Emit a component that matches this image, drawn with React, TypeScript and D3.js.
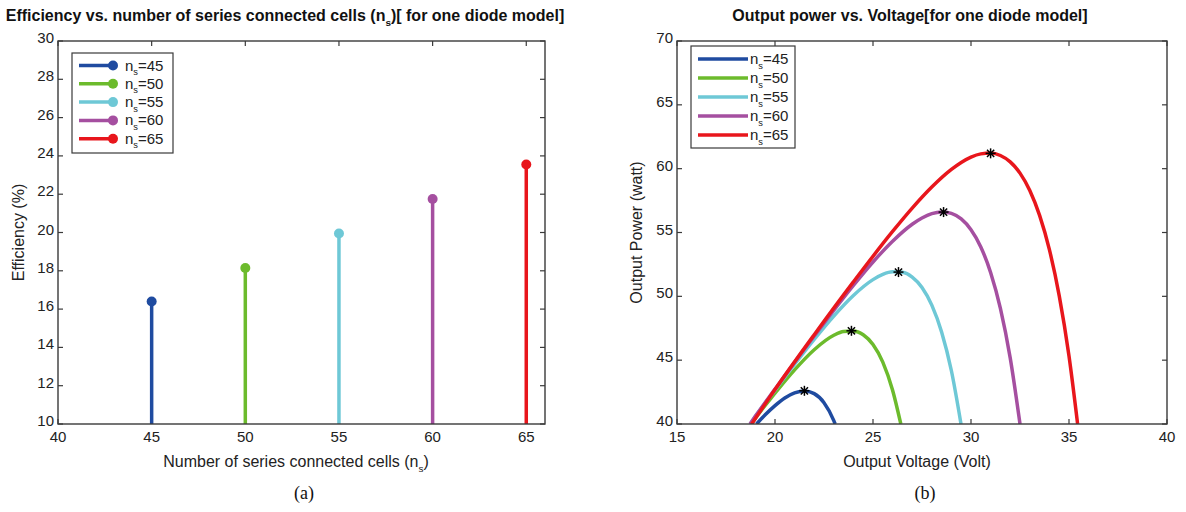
import React from 'react';
import * as d3 from 'd3';

// ---------- data ----------
const nsValues = [45, 50, 55, 60, 65];
const efficiency = [16.4, 18.15, 19.95, 21.75, 23.55];
const seriesLabels = ['45', '50', '55', '60', '65'];
const colors = ['#1f4ba0', '#6cbb2c', '#6ec8d6', '#a54fa0', '#e8161c'];

const effXTicks = [40, 45, 50, 55, 60, 65];
const effYTicks = [10, 12, 14, 16, 18, 20, 22, 24, 26, 28, 30];

const pvBlue: [number, number][] = [[19.06, 40], [19.5, 40.72], [20, 41.44], [20.5, 42.04], [21, 42.44], [21.5, 42.59], [22, 42.38], [22.5, 41.67], [23, 40.27], [23.07, 40]];
const pvGreen: [number, number][] = [[18.8, 40], [19, 40.45], [20, 42.41], [21, 44.24], [22, 45.82], [23, 46.95], [23.5, 47.25], [24, 47.29], [24.5, 46.99], [25, 46.23], [25.5, 44.85], [26, 42.65], [26.42, 40]];
const pvCyan: [number, number][] = [[18.75, 40], [19, 40.57], [20, 42.65], [21, 44.68], [22, 46.63], [23, 48.46], [24, 50.07], [25, 51.31], [25.5, 51.72], [26, 51.92], [26.5, 51.88], [27, 51.5], [27.5, 50.69], [28, 49.31], [28.5, 47.21], [29, 44.17], [29.49, 40]];
const pvPurple: [number, number][] = [[18.72, 40], [19, 40.62], [20, 42.73], [22, 46.89], [24, 50.86], [25, 52.69], [26, 54.32], [27, 55.65], [27.5, 56.14], [28, 56.48], [28.5, 56.61], [29, 56.5], [29.5, 56.06], [30, 55.22], [30.5, 53.87], [31, 51.87], [31.5, 49.05], [32, 45.18], [32.5, 40]];
const pvRed: [number, number][] = [[18.81, 40], [20, 42.7], [22, 46.99], [24, 51.13], [26, 55.08], [27, 56.91], [28, 58.56], [29, 59.94], [29.5, 60.49], [30, 60.91], [30.5, 61.16], [31, 61.22], [31.5, 61.03], [32, 60.53], [32.5, 59.65], [33, 58.29], [33.5, 56.34], [34, 53.66], [34.5, 50.06], [35, 45.33], [35.44, 40]];
const pvSeries = [pvBlue, pvGreen, pvCyan, pvPurple, pvRed];

const mppV = [21.5, 23.9, 26.3, 28.6, 31.0];
const mppP = [42.6, 47.3, 51.9, 56.6, 61.2];

const pvXTicks = [15, 20, 25, 30, 35, 40];
const pvYTicks = [40, 45, 50, 55, 60, 65, 70];

// ---------- styling ----------
const FONT = "'Liberation Sans', Arial, Helvetica, sans-serif";
const AXIS = '#3a3a3a';
const TXT = '#222';
const TOP = 41;
const BOTTOM = 424;
const TICK = 5;
const TICKFS = 15;
const LABELFS = 16;
const LEGFS = 15;

function Sub({ main, sub, after, size }: { main: string; sub: string; after: string; size: number }) {
  return (
    <>
      {main}
      <tspan fontSize={size * 0.62} dy={size * 0.3}>{sub}</tspan>
      <tspan dy={-size * 0.3}>{after}</tspan>
    </>
  );
}

function Frame({ x0, x1, xs, ys, xTicks, yTicks }: any) {
  return (
    <g>
      <rect x={x0} y={TOP} width={x1 - x0} height={BOTTOM - TOP} fill="#fff" stroke="none" />
      {xTicks.map((t: number) => (
        <g key={'x' + t}>
          <line x1={xs(t)} x2={xs(t)} y1={BOTTOM} y2={BOTTOM - TICK} stroke={AXIS} strokeWidth={1.2} />
          <line x1={xs(t)} x2={xs(t)} y1={TOP} y2={TOP + TICK} stroke={AXIS} strokeWidth={1.2} />
          <text x={xs(t)} y={BOTTOM + 18} textAnchor="middle" fontSize={TICKFS} fill={TXT}>{t}</text>
        </g>
      ))}
      {yTicks.map((t: number) => (
        <g key={'y' + t}>
          <line x1={x0} x2={x0 + TICK} y1={ys(t)} y2={ys(t)} stroke={AXIS} strokeWidth={1.2} />
          <line x1={x1} x2={x1 - TICK} y1={ys(t)} y2={ys(t)} stroke={AXIS} strokeWidth={1.2} />
          <text x={x0 - 4} y={ys(t) + 2} textAnchor="end" fontSize={TICKFS} fill={TXT}>{t}</text>
        </g>
      ))}
    </g>
  );
}

function Border({ x0, x1 }: { x0: number; x1: number }) {
  return <rect x={x0} y={TOP} width={x1 - x0} height={BOTTOM - TOP} fill="none" stroke={AXIS} strokeWidth={1.4} />;
}

export default function App() {
  // left chart
  const lx0 = 58, lx1 = 545;
  const ex = d3.scaleLinear().domain([40, 66]).range([lx0, lx1]);
  const ey = d3.scaleLinear().domain([10, 30]).range([BOTTOM, TOP]);

  // right chart
  const rx0 = 677, rx1 = 1167;
  const px = d3.scaleLinear().domain([15, 40]).range([rx0, rx1]);
  const py = d3.scaleLinear().domain([40, 70]).range([BOTTOM, TOP]);
  const line = d3.line<[number, number]>().x(d => px(d[0])).y(d => py(d[1])).curve(d3.curveMonotoneX);

  const legL = { x: 72, y: 53, w: 101, h: 100 };
  const legR = { x: 691, y: 46, w: 104, h: 102 };

  return (
    <svg width={1186} height={512} style={{ position: 'absolute', left: 0, top: 0, background: '#fff' }} fontFamily={FONT}>
      <rect width={1186} height={512} fill="#fff" />
      <defs>
        <clipPath id="pvclip">
          <rect x={rx0} y={TOP} width={rx1 - rx0} height={BOTTOM - TOP} />
        </clipPath>
      </defs>

      {/* ---------- Left chart ---------- */}
      <text x={285} y={21} textAnchor="middle" fontSize={16} fontWeight="bold" fill="#111">
        <Sub main="Efficiency vs. number of series connected cells (n" sub="s" after=")[ for one diode model]" size={16} />
      </text>
      <Frame x0={lx0} x1={lx1} xs={ex} ys={ey} xTicks={effXTicks} yTicks={effYTicks} />
      {nsValues.map((n, i) => (
        <g key={'stem' + n}>
          <line x1={ex(n)} x2={ex(n)} y1={ey(10)} y2={ey(efficiency[i])} stroke={colors[i]} strokeWidth={3.5} />
          <circle cx={ex(n)} cy={ey(efficiency[i])} r={5} fill={colors[i]} />
        </g>
      ))}
      <Border x0={lx0} x1={lx1} />
      <g>
        <rect x={legL.x} y={legL.y} width={legL.w} height={legL.h} fill="#fff" stroke={AXIS} strokeWidth={1.2} />
        {seriesLabels.map((s, i) => {
          const yy = legL.y + 12.5 + i * 18.3;
          return (
            <g key={'ll' + s}>
              <line x1={legL.x + 7} x2={legL.x + 41} y1={yy} y2={yy} stroke={colors[i]} strokeWidth={3.5} />
              <circle cx={legL.x + 41} cy={yy} r={5} fill={colors[i]} />
              <text x={legL.x + 53} y={yy + 5} fontSize={LEGFS} fill={TXT}>
                <Sub main="n" sub="s" after="=" size={LEGFS} />{s}
              </text>
            </g>
          );
        })}
      </g>
      <text x={296} y={467} textAnchor="middle" fontSize={LABELFS} fill={TXT}>
        <Sub main="Number of series connected cells (n" sub="s" after=")" size={LABELFS} />
      </text>
      <text transform={`translate(24, ${(TOP + BOTTOM) / 2}) rotate(-90)`} textAnchor="middle" fontSize={LABELFS} fill={TXT}>Efficiency (%)</text>
      <text x={304} y={499} textAnchor="middle" fontSize={18} fontFamily="'Liberation Serif', 'Times New Roman', serif" fill="#111">(a)</text>

      {/* ---------- Right chart ---------- */}
      <text x={910} y={21} textAnchor="middle" fontSize={16} fontWeight="bold" fill="#111">Output power vs. Voltage[for one diode model]</text>
      <Frame x0={rx0} x1={rx1} xs={px} ys={py} xTicks={pvXTicks} yTicks={pvYTicks} />
      <g clipPath="url(#pvclip)">
        {pvSeries.map((s, i) => (
          <path key={'pv' + i} d={line(s) || ''} fill="none" stroke={colors[i]} strokeWidth={3.5} strokeLinejoin="round" />
        ))}
      </g>
      {mppV.map((v, i) => {
        const cx = px(v), cy = py(mppP[i]);
        const r = 5, d = r * 0.72;
        return (
          <g key={'mpp' + i} stroke="#000" strokeWidth={1.5}>
            <line x1={cx - r} x2={cx + r} y1={cy} y2={cy} />
            <line x1={cx} x2={cx} y1={cy - r} y2={cy + r} />
            <line x1={cx - d} x2={cx + d} y1={cy - d} y2={cy + d} />
            <line x1={cx - d} x2={cx + d} y1={cy + d} y2={cy - d} />
          </g>
        );
      })}
      <Border x0={rx0} x1={rx1} />
      <g>
        <rect x={legR.x} y={legR.y} width={legR.w} height={legR.h} fill="#fff" stroke={AXIS} strokeWidth={1.2} />
        {seriesLabels.map((s, i) => {
          const yy = legR.y + 13 + i * 19;
          return (
            <g key={'lr' + s}>
              <line x1={legR.x + 7} x2={legR.x + 57} y1={yy} y2={yy} stroke={colors[i]} strokeWidth={3.5} />
              <text x={legR.x + 59} y={yy + 5} fontSize={LEGFS} fill={TXT}>
                <Sub main="n" sub="s" after="=" size={LEGFS} />{s}
              </text>
            </g>
          );
        })}
      </g>
      <text x={917} y={467} textAnchor="middle" fontSize={LABELFS} fill={TXT}>Output Voltage (Volt)</text>
      <text transform={`translate(642, ${(TOP + BOTTOM) / 2}) rotate(-90)`} textAnchor="middle" fontSize={LABELFS} fill={TXT}>Output Power (watt)</text>
      <text x={925} y={499} textAnchor="middle" fontSize={18} fontFamily="'Liberation Serif', 'Times New Roman', serif" fill="#111">(b)</text>
    </svg>
  );
}
